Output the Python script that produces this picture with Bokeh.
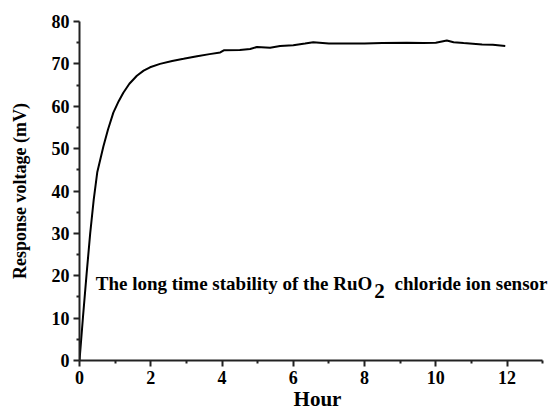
from bokeh.plotting import figure
from bokeh.models import Label, Range1d, FixedTicker
from bokeh.embed import file_html
from bokeh.resources import INLINE

hours = [0, 0.1, 0.2, 0.3, 0.4, 0.5, 0.67, 0.8, 0.95, 1.1, 1.23, 1.4, 1.61, 1.8, 1.98,
         2.26, 2.6, 2.92, 3.3, 3.65, 3.95, 4.05, 4.5, 4.79, 4.98, 5.35, 5.63, 6.0,
         6.33, 6.56, 7.0, 7.6, 8.0, 8.5, 9.19, 9.65, 10.0, 10.31, 10.5, 10.78, 11.3,
         11.6, 11.95]
volts = [0, 10.5, 20.5, 30.0, 38.0, 44.5, 50.5, 54.5, 58.5, 61.2, 63.2, 65.3, 67.2, 68.4, 69.2,
         70.0, 70.7, 71.2, 71.8, 72.3, 72.7, 73.2, 73.3, 73.5, 74.0, 73.8, 74.2, 74.4,
         74.8, 75.1, 74.8, 74.8, 74.8, 74.9, 75.0, 74.9, 75.0, 75.5, 75.1, 74.9, 74.6,
         74.5, 74.2]
x_ticks = [0, 2, 4, 6, 8, 10, 12]
x_minor = [1, 3, 5, 7, 9, 11, 13]
y_ticks = [0, 10, 20, 30, 40, 50, 60, 70, 80]
y_minor = [5, 15, 25, 35, 45, 55, 65, 75]
x_label = "Hour"
y_label = "Response voltage (mV)"
note_a = "The long time stability of the RuO"
note_sub = "2"
note_b = "chloride ion sensor"

FONT = "Liberation Serif"

p = figure(width=555, height=413, output_backend="svg", toolbar_location=None,
           x_range=Range1d(0, 13.36), y_range=Range1d(0, 80),
           min_border_left=79, min_border_right=0, min_border_top=21, min_border_bottom=53)
p.outline_line_color = None
p.xgrid.visible = False
p.ygrid.visible = False
p.background_fill_color = "white"
p.border_fill_color = "white"

p.line(hours, volts, line_color="black", line_width=2)

for ax, ticks, minors in ((p.xaxis[0], x_ticks, x_minor),
                          (p.yaxis[0], y_ticks, y_minor)):
    ax.ticker = FixedTicker(ticks=ticks, minor_ticks=minors)
    ax.axis_line_width = 2
    ax.axis_line_color = "#222222"
    ax.major_tick_line_width = 2
    ax.minor_tick_line_width = 2
    ax.major_tick_line_color = "#222222"
    ax.minor_tick_line_color = "#222222"
    ax.major_tick_out = 6
    ax.major_tick_in = 0
    ax.minor_tick_out = 3
    ax.minor_tick_in = 0
    ax.major_label_text_font = FONT
    ax.major_label_text_font_style = "bold"
    ax.major_label_text_font_size = "18px"
    ax.major_label_text_color = "black"
    ax.major_label_standoff = 4
    ax.axis_label_text_font = FONT
    ax.axis_label_text_font_style = "bold"
    ax.axis_label_text_color = "black"

p.xaxis[0].bounds = (0, 13)
p.xaxis[0].axis_label = x_label
p.xaxis[0].axis_label_text_font_size = "21px"
p.xaxis[0].axis_label_standoff = 0
p.yaxis[0].axis_label = y_label
p.yaxis[0].axis_label_text_font_size = "18px"
p.yaxis[0].axis_label_standoff = 19

p.add_layout(Label(x=0.455, y=18.1, text=note_a, text_font=FONT, text_font_style="bold",
                   text_font_size="19px", text_color="black",
                   text_align="left", text_baseline="alphabetic"))
p.add_layout(Label(x=8.27, y=16.4, text=note_sub, text_font=FONT, text_font_style="bold",
                   text_font_size="21px", text_color="black",
                   text_align="left", text_baseline="alphabetic"))
p.add_layout(Label(x=8.84, y=18.1, text=note_b, text_font=FONT, text_font_style="bold",
                   text_font_size="19px", text_color="black",
                   text_align="left", text_baseline="alphabetic"))

open("out.html", "w").write(file_html(p, INLINE))
